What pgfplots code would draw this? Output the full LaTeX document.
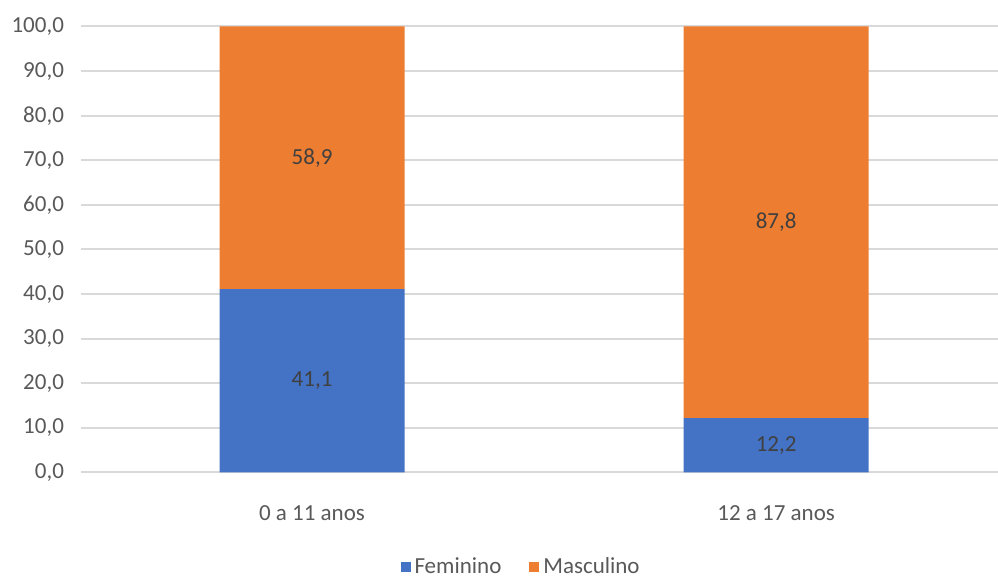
\documentclass[border=0pt]{standalone}
\usepackage{pgfplots}
\pgfplotsset{compat=1.18}
\usetikzlibrary{calc}
\usepackage{fontspec}
\setmainfont{Carlito}
\definecolor{fem}{HTML}{4472C4}
\definecolor{masc}{HTML}{ED7D31}
\definecolor{txt}{HTML}{595959}
\definecolor{lbl}{HTML}{404040}
\definecolor{gridc}{HTML}{D9D9D9}
\pgfplotsset{
  common/.style={
    scale only axis,
    width=458.5pt, height=223pt,
    xmin=-0.4978, xmax=1.478,
    ymin=0, ymax=100,
    font=\fontsize{11.5}{14}\selectfont,
  }
}
\begin{document}
\begin{tikzpicture}
\begin{axis}[
  common,
  ybar stacked,
  bar width=92.5pt,
  ytick={0,10,...,100},
  xtick={0,1},
  xticklabels={0 a 11 anos, 12 a 17 anos},
  ymajorgrids,
  grid style={draw=gridc, line width=1pt},
  axis line style={draw=none},
  major tick style={draw=none},
  tick label style={text=txt},
  yticklabel style={xshift=-5pt},
  xticklabel style={yshift=-13pt},
  /pgf/number format/assume math mode=true,
  yticklabel={\pgfmathprintnumber[fixed,fixed zerofill,precision=1,use comma]{\tick}},
  legend style={at={(0.481,-0.212)}, anchor=center, draw=none, legend columns=2,
    font=\fontsize{11.5}{14}\selectfont, text=txt,
    /tikz/every even column/.append style={column sep=12pt}},
  legend image code/.code={\fill[#1] (0pt,-2.6pt) rectangle (5pt,2.4pt);},
]
\addplot[fill=fem, draw=none] coordinates {(0,41.1) (1,12.2)};
\addplot[fill=masc, draw=none] coordinates {(0,58.9) (1,87.8)};
\legend{Feminino, Masculino}
\end{axis}
\begin{axis}[
  common,
  hide axis,
  nodes near coords,
  point meta=explicit symbolic,
  every node near coord/.append style={font=\fontsize{11.5}{14}\selectfont, text=lbl, anchor=center},
]
\addplot[draw=none, mark=none] table[meta=lab] {
x y lab
0 20.55 41,1
0 70.55 58,9
1 6.1 12,2
1 56.1 87,8
};
\end{axis}
\pgfresetboundingbox
\path[use as bounding box] ($(current axis.south west)+(-40.5pt,-53pt)$) rectangle ($(current axis.north east)+(0pt,13.25pt)$);
\end{tikzpicture}
\end{document}
